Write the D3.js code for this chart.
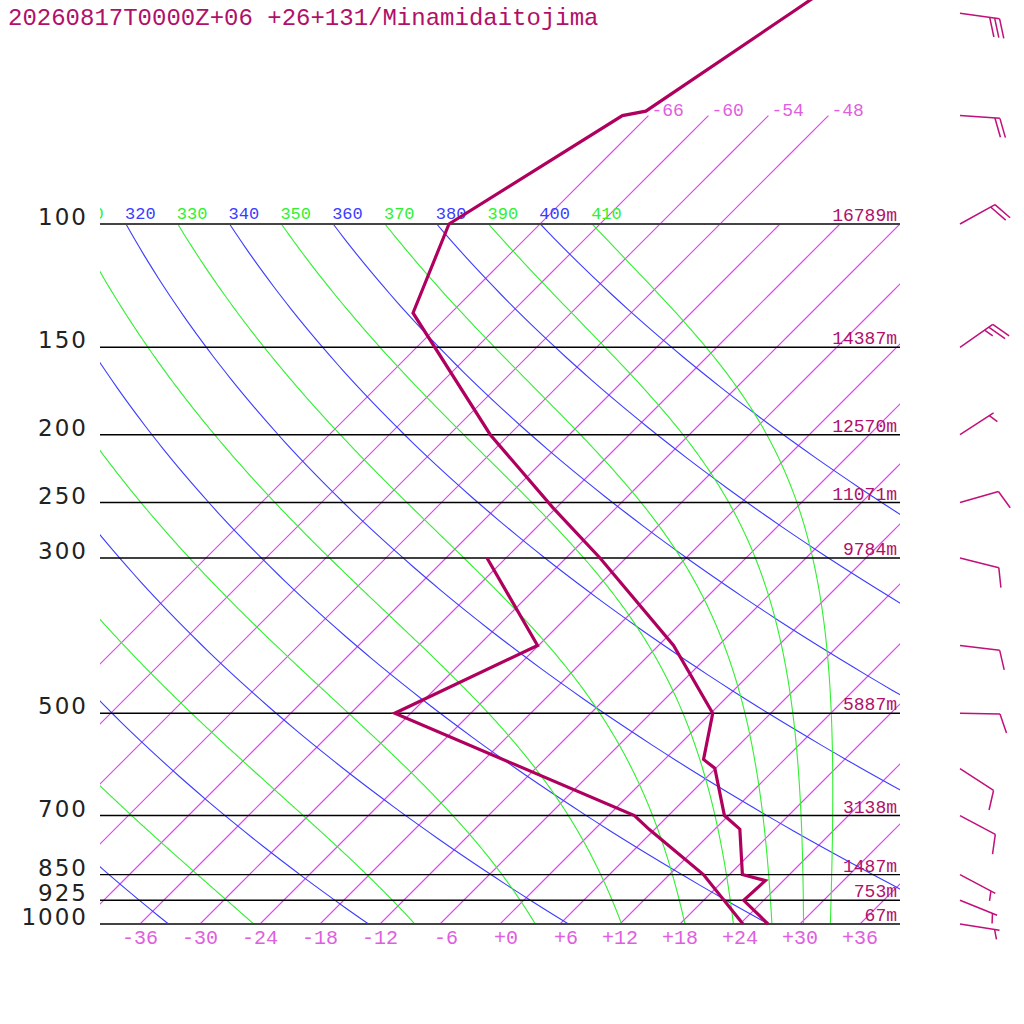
<!DOCTYPE html>
<html><head><meta charset="utf-8">
<script src="https://cdn.jsdelivr.net/npm/d3@7"></script>
<style>body{margin:0;background:#fff}</style>
</head><body>
<svg id="c" width="1024" height="1024" xmlns="http://www.w3.org/2000/svg"></svg>
<script>
// ---------------- data ----------------
const title = "20260817T0000Z+06 +26+131/Minamidaitojima";
const isobars = [1000, 925, 850, 700, 500, 300, 250, 200, 150, 100];
const isobarHeights = ["67m", "753m", "1487m", "3138m", "5887m", "9784m", "11071m", "12570m", "14387m", "16789m"];
const isotherms = [-66, -60, -54, -48, -42, -36, -30, -24, -18, -12, -6, 0, 6, 12, 18, 24, 30, 36];
const isothermTopLabels = [-66, -60, -54, -48];
const tempTicks = [-36, -30, -24, -18, -12, -6, 0, 6, 12, 18, 24, 30, 36];
const dryThetas = [240, 260, 280, 300, 320, 340, 360, 380, 400];
const moistThetas = [250, 270, 290, 310, 330, 350, 370, 390, 410];

const tempP = [1000, 925, 867, 850, 732, 700, 599, 582, 500, 400, 300, 254, 200, 134, 100, 70, 69, 50, 40];
const tempT = [26.8, 22.0, 22.2, 19.3, 14.5, 11.6, 5.9, 3.9, 0.2, -10.5, -26.6, -36.4, -49.9, -69.8, -75.1, -68.6, -66.7, -62.0, -58.8];
const dewP = [1000, 850, 733, 700, 500, 400, 300];
const dewT = [24.3, 15.4, 5.5, 2.6, -31.6, -24.1, -37.9];

const windP = [1000, 925, 850, 700, 600, 500, 400, 300, 250, 200, 150, 100, 70, 50];
const windDir = [99, 112, 118, 118, 123, 91, 97, 104, 74, 57, 55, 61, 94, 98];
const windKt = [5, 5, 5, 10, 10, 10, 10, 10, 10, 5, 25, 20, 20, 30];

// ---------------- colours ----------------
const COL = {
  iso: "rgb(222,68,236)", isoLbl: "#e05ee0", dry: "#3c3cff", moist: "#30f030",
  prof: "#b0005e", txt: "#b0106a", barb: "#c0107a"
};
const MONO = "'Liberation Mono', 'DejaVu Sans Mono', monospace";

// ---------------- scales ----------------
const y = d3.scaleLog().domain([1000, 100]).range([924, 224]);
const x = d3.scaleLinear().domain([-40, 40]).range([100, 900]);
const sx = (T, p) => x(T) + (y(1000) - y(p));

const svg = d3.select("#c");
svg.append("defs").append("clipPath").attr("id", "plot")
  .append("rect").attr("x", 100).attr("y", -200).attr("width", 800).attr("height", 1124);
const plot = svg.append("g").attr("clip-path", "url(#plot)");
const line = d3.line().x(d => sx(d[1], d[0])).y(d => y(d[0]));

// isotherms (drawn as multi-point paths)
isotherms.forEach(T => {
  const top = isothermTopLabels.includes(T) ? 70 : 100;
  const pts = d3.range(0, 21).map(i => [1000 * Math.pow(top / 1000, i / 20), T]);
  plot.append("path").attr("d", line(pts))
    .attr("fill", "none").attr("stroke", COL.iso).attr("stroke-width", 1.1);
});
isothermTopLabels.forEach(T => {
  svg.append("text").attr("x", sx(T, 70) + 3).attr("y", y(70))
    .attr("fill", COL.isoLbl).attr("font-family", MONO).attr("font-size", 18)
    .text(String(T));
});

// dry adiabats
const K = 0.2857;
const pLevels = d3.range(0, 91).map(i => 1000 * Math.pow(10, -i / 90));
dryThetas.forEach(th => {
  const pts = pLevels.map(p => [p, th * Math.pow(p / 1000, K) - 273.15]);
  plot.append("path").attr("d", line(pts))
    .attr("stroke", COL.dry).attr("stroke-width", 1.1).attr("fill", "none");
  const lx = sx(pts[pts.length - 1][1], 100) - 1;
  if (lx > 70) {
    plot.append("text").attr("x", lx).attr("y", 219)
      .attr("fill", COL.dry).attr("font-family", MONO).attr("font-size", 17).text(th);
  }
});

// moist (pseudo) adiabats, integrated downward from 100 hPa
function dTdp(T, p) {
  const Rd = 287.04, cp = 1005.7, Lv = 2.501e6, eps = 0.622;
  const es = 6.112 * Math.exp(17.67 * (T - 273.15) / (T - 29.65));
  const rs = eps * es / (p - es);
  return (Rd * T + Lv * rs) / (p * (cp + Lv * Lv * rs * eps / (Rd * T * T)));
}
moistThetas.forEach(th => {
  let T = th * Math.pow(0.1, K), p = 100;
  const pts = [[p, T - 273.15]];
  const dp = 2;
  while (p < 1000) {
    const k1 = dTdp(T, p), k2 = dTdp(T + k1 * dp / 2, p + dp / 2),
      k3 = dTdp(T + k2 * dp / 2, p + dp / 2), k4 = dTdp(T + k3 * dp, p + dp);
    T += dp * (k1 + 2 * k2 + 2 * k3 + k4) / 6; p += dp;
    pts.push([p, T - 273.15]);
  }
  plot.append("path").attr("d", line(pts))
    .attr("stroke", COL.moist).attr("stroke-width", 1.1).attr("fill", "none");
  const lx = sx(pts[0][1], 100) - 1;
  if (lx > 70) {
    plot.append("text").attr("x", lx).attr("y", 219)
      .attr("fill", COL.moist).attr("font-family", MONO).attr("font-size", 17).text(th);
  }
});

// isobars
isobars.forEach((p, i) => {
  const edge = (p === 1000 || p === 100);
  svg.append("line").attr("x1", 100).attr("x2", 900).attr("y1", y(p)).attr("y2", y(p))
    .attr("stroke", edge ? "#444" : "#000").attr("stroke-width", edge ? 2 : 1.4);
  svg.append("text").attr("x", 88).attr("y", y(p) + 1).attr("text-anchor", "end")
    .attr("font-family", "'DejaVu Sans', sans-serif").attr("font-size", 23)
    .attr("letter-spacing", 2).attr("fill", "#222").text(p);
  svg.append("text").attr("x", 897).attr("y", y(p) - 3).attr("text-anchor", "end")
    .attr("font-family", MONO).attr("font-size", 18).attr("fill", COL.txt).text(isobarHeights[i]);
});

// bottom temperature labels
tempTicks.forEach(T => {
  svg.append("text").attr("x", x(T) + 18).attr("y", 944).attr("text-anchor", "end")
    .attr("font-family", MONO).attr("font-size", 20).attr("fill", COL.isoLbl)
    .text((T >= 0 ? "+" : "") + T);
});

// profiles
const tData = tempP.map((p, i) => [p, tempT[i]]);
const dData = dewP.map((p, i) => [p, dewT[i]]);
[tData, dData].forEach(d => {
  svg.append("path").attr("d", line(d))
    .attr("fill", "none").attr("stroke", COL.prof).attr("stroke-width", 3.2)
    .attr("stroke-linejoin", "miter");
});

// wind barbs
const gB = svg.append("g").attr("stroke", COL.barb).attr("stroke-width", 1.5).attr("fill", "none");
windP.forEach((p, i) => {
  const x0 = 960, y0 = y(p);
  const a = windDir[i] * Math.PI / 180;
  const ux = Math.sin(a), uy = -Math.cos(a);
  const L = 40;
  const tx = x0 + ux * L, ty = y0 + uy * L;
  gB.append("line").attr("x1", x0).attr("y1", y0).attr("x2", tx).attr("y2", ty);
  const ang = Math.atan2(uy, ux) + 70 * Math.PI / 180;
  const bx = Math.cos(ang), by = Math.sin(ang);
  let s = windKt[i];
  let k = 0;
  const full = Math.floor(s / 10); s -= full * 10;
  const half = s >= 5 ? 1 : 0;
  for (let j = 0; j < full; j++, k++) {
    const px = tx - ux * 5 * k, py = ty - uy * 5 * k;
    gB.append("line").attr("x1", px).attr("y1", py).attr("x2", px + bx * 20).attr("y2", py + by * 20);
  }
  if (half) {
    if (k === 0) k = 1;
    const px = tx - ux * 5 * k, py = ty - uy * 5 * k;
    gB.append("line").attr("x1", px).attr("y1", py).attr("x2", px + bx * 10).attr("y2", py + by * 10);
  }
});

// title
svg.append("text").attr("x", 8).attr("y", 25).attr("font-family", MONO).attr("font-size", 24)
  .attr("fill", COL.txt).text(title);
</script>
</body></html>
